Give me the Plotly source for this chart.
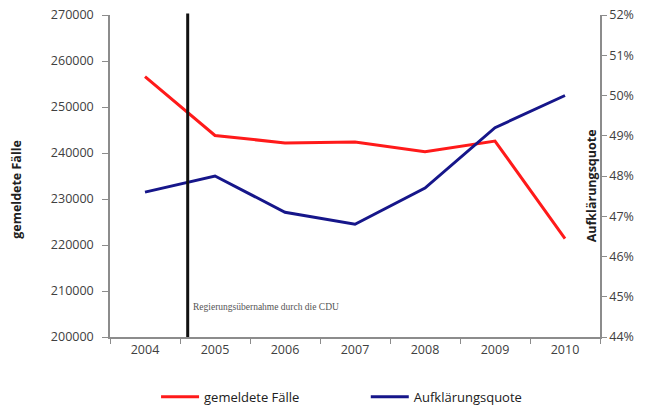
import plotly.graph_objects as go

years = ["2004", "2005", "2006", "2007", "2008", "2009", "2010"]
gemeldete_faelle = [256600, 243800, 242200, 242400, 240300, 242600, 221400]
aufklaerungsquote = [0.476, 0.480, 0.471, 0.468, 0.477, 0.492, 0.500]
left_ticks = [200000, 210000, 220000, 230000, 240000, 250000, 260000, 270000]
right_ticks = [0.44, 0.45, 0.46, 0.47, 0.48, 0.49, 0.50, 0.51, 0.52]
event_pos = 0.61
event_label = "Regierungsübernahme durch die CDU"

font_fam = "Open Sans, Noto Sans, sans-serif"
txt_col = "#404040"
axis_col = "#8c8c8c"

fig = go.Figure()
fig.add_trace(go.Scatter(x=years, y=gemeldete_faelle, name="gemeldete Fälle",
                         mode="lines", line=dict(color="#ff1a1a", width=3), yaxis="y",
                         legend="legend"))
fig.add_trace(go.Scatter(x=years, y=aufklaerungsquote, name="Aufklärungsquote",
                         mode="lines", line=dict(color="#16168a", width=3), yaxis="y2",
                         legend="legend2"))

fig.add_shape(type="line", xref="x", yref="paper", x0=event_pos, x1=event_pos,
              y0=0, y1=1.005, line=dict(color="#111111", width=3))
fig.add_annotation(xref="x", yref="y", x=event_pos, y=206500, text=event_label,
                   showarrow=False, xanchor="left", xshift=3,
                   font=dict(family="Liberation Serif, serif", size=9.5, color="#555555"))

fig.add_annotation(xref="paper", yref="paper", x=-0.19, y=0.46, text="<b>gemeldete Fälle</b>",
                   textangle=-90, showarrow=False, xanchor="center", yanchor="middle",
                   font=dict(family=font_fam, size=12.5, color="#202020"))
fig.add_annotation(xref="paper", yref="paper", x=0.983, y=0.47, text="<b>Aufklärungsquote</b>",
                   textangle=-90, showarrow=False, xanchor="center", yanchor="middle",
                   font=dict(family=font_fam, size=12.5, color="#202020"))

legend_style = dict(orientation="h", xanchor="left", y=-0.186, yanchor="middle",
                    font=dict(size=13, color="#202020"), itemwidth=38,
                    bgcolor="rgba(0,0,0,0)")

fig.update_layout(
    width=653, height=409,
    margin=dict(l=110, r=53, t=15, b=72, autoexpand=False),
    paper_bgcolor="white", plot_bgcolor="white",
    font=dict(family=font_fam, size=12.5, color=txt_col),
    showlegend=True,
    legend=dict(x=0.094, **legend_style),
    legend2=dict(x=0.522, **legend_style),
    xaxis=dict(type="category", range=[-0.5, 6.5], showline=True, linecolor=axis_col,
               linewidth=1.5, ticks="outside", tickson="boundaries", ticklen=5,
               tickcolor=axis_col, showgrid=False, zeroline=False,
               tickfont=dict(color=txt_col, size=12.5)),
    yaxis=dict(range=[200000, 270000], tickvals=left_ticks, tickformat="d", showline=True,
               linecolor=axis_col, linewidth=1.5, ticks="outside", ticklen=6,
               tickcolor=axis_col, showgrid=False, zeroline=False,
               tickfont=dict(color=txt_col, size=12.5), ticklabelstandoff=6),
    yaxis2=dict(range=[0.44, 0.52], tickvals=right_ticks, tickformat=".0%",
                overlaying="y", side="right", showline=True, linecolor=axis_col,
                linewidth=1.5, ticks="outside", ticklen=5, tickcolor=axis_col,
                showgrid=False, zeroline=False, tickfont=dict(color=txt_col, size=12.5)),
)

fig.write_html("out.html", config={"displayModeBar": False},
               post_script="document.body.style.margin='0';")
